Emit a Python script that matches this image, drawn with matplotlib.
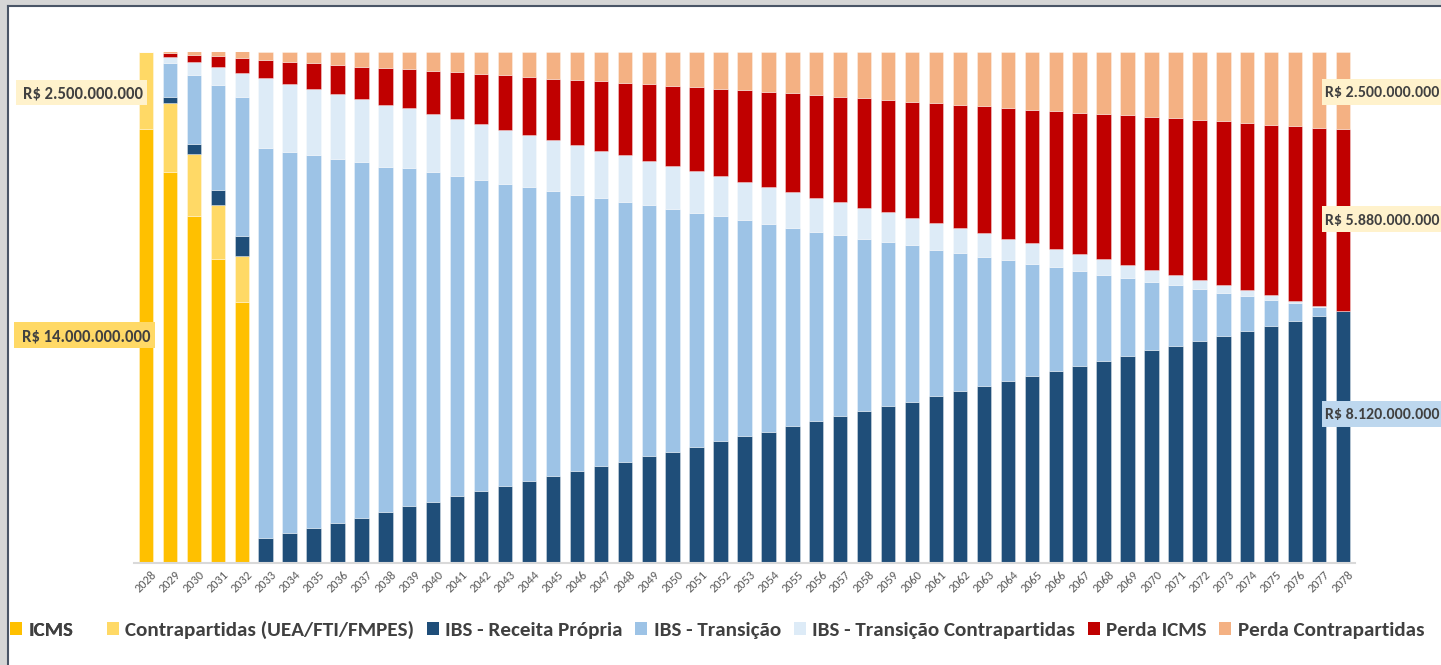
import matplotlib
matplotlib.use('Agg')
import matplotlib.pyplot as plt
from matplotlib.patches import Rectangle, Patch
from matplotlib.lines import Line2D
from matplotlib import font_manager
import matplotlib.transforms as mtransforms
import numpy as np

# ---------------- data (values in R$ billions) ----------------
years = list(range(2028, 2079))

icms = [14.0, 12.6, 11.2, 9.8, 8.4] + [0.0] * 46
contrapartidas = [2.5, 2.25, 2.0, 1.75, 1.5] + [0.0] * 46
ibs_receita_propria = [0, 0.19, 0.32, 0.49, 0.65, 0.79, 0.95, 1.13, 1.28, 1.43, 1.63, 1.81, 1.96,
                       2.15, 2.30, 2.47, 2.63, 2.78, 2.96, 3.11, 3.26, 3.43, 3.58, 3.74, 3.92,
                       4.08, 4.23, 4.41, 4.56, 4.72, 4.89, 5.05, 5.20, 5.38, 5.53, 5.70, 5.86,
                       6.02, 6.17, 6.35, 6.52, 6.67, 6.85, 7.00, 7.15, 7.32, 7.48, 7.63, 7.81,
                       7.97, 8.12]
ibs_transicao = [0, 1.11, 2.24, 3.38, 4.48, 12.61, 12.31, 12.02, 11.76, 11.50, 11.16, 10.92,
                 10.64, 10.32, 10.06, 9.76, 9.50, 9.23, 8.91, 8.66, 8.39, 8.11, 7.83, 7.54,
                 7.26, 6.98, 6.72, 6.41, 6.13, 5.87, 5.57, 5.31, 5.04, 4.73, 4.47, 4.18, 3.91,
                 3.62, 3.38, 3.07, 2.78, 2.52, 2.21, 1.96, 1.68, 1.39, 1.13, 0.84, 0.57, 0.29, 0]
ibs_transicao_contra = [0, 0.19, 0.40, 0.59, 0.79, 2.24, 2.20, 2.15, 2.08, 2.04, 2.00, 1.94,
                        1.88, 1.86, 1.79, 1.74, 1.68, 1.63, 1.61, 1.52, 1.50, 1.43, 1.41, 1.36,
                        1.30, 1.24, 1.18, 1.15, 1.09, 1.06, 1.00, 0.95, 0.88, 0.86, 0.80, 0.77,
                        0.69, 0.67, 0.59, 0.54, 0.49, 0.43, 0.40, 0.33, 0.30, 0.24, 0.18, 0.16,
                        0.08, 0.04, 0]
perda_icms = [0, 0.13, 0.24, 0.36, 0.49, 0.59, 0.72, 0.82, 0.94, 1.05, 1.17, 1.27, 1.41, 1.51,
              1.63, 1.77, 1.88, 1.99, 2.11, 2.25, 2.35, 2.49, 2.58, 2.71, 2.83, 2.95, 3.07,
              3.18, 3.31, 3.40, 3.53, 3.63, 3.77, 3.86, 3.98, 4.09, 4.22, 4.32, 4.43, 4.57,
              4.71, 4.84, 4.94, 5.07, 5.17, 5.30, 5.41, 5.51, 5.64, 5.75, 5.88]
perda_contra = [0, 0.05, 0.11, 0.16, 0.21, 0.27, 0.32, 0.38, 0.44, 0.48, 0.54, 0.56, 0.61, 0.66,
                0.72, 0.76, 0.81, 0.87, 0.91, 0.96, 1.00, 1.04, 1.10, 1.15, 1.19, 1.25, 1.30,
                1.35, 1.41, 1.45, 1.51, 1.56, 1.61, 1.67, 1.72, 1.76, 1.82, 1.87, 1.93, 1.97,
                2.00, 2.04, 2.10, 2.14, 2.20, 2.25, 2.30, 2.36, 2.40, 2.45, 2.50]

series_labels = ["ICMS", "Contrapartidas (UEA/FTI/FMPES)", "IBS - Receita Própria",
                 "IBS - Transição", "IBS - Transição Contrapartidas", "Perda ICMS",
                 "Perda Contrapartidas"]
series_colors = ["#FFC000", "#FFD966", "#1F4E79", "#9DC3E6", "#DDEBF7", "#C00000", "#F4B183"]

label_texts = ["R$ 2.500.000.000", "R$ 14.000.000.000", "R$ 2.500.000.000",
               "R$ 5.880.000.000", "R$ 8.120.000.000"]

# ---------------- fonts ----------------
avail = {f.name for f in font_manager.fontManager.ttflist}
def pick(*names):
    for n in names:
        if n in avail:
            return n
    return "DejaVu Sans"
font = pick("Carlito", "Lato", "Liberation Sans")

# ---------------- figure ----------------
W, H = 1441, 665
fig = plt.figure(figsize=(W / 100, H / 100), dpi=100)
fig.patch.set_facecolor("white")

def fx(px):
    return px / W

def fy(py):
    return 1 - py / H

ax = fig.add_axes([fx(133.5), fy(562.5), (1355 - 133.5) / W, (562.5 - 51.7) / H])
x = np.arange(len(years))
data = [icms, contrapartidas, ibs_receita_propria, ibs_transicao, ibs_transicao_contra,
        perda_icms, perda_contra]
bottom = np.zeros(len(years))
for vals, color, lab in zip(data, series_colors, series_labels):
    v = np.array(vals, dtype=float)
    ax.bar(x, v, 0.6, bottom=bottom, color=color, edgecolor=(1, 1, 1, 0.6),
           linewidth=0.4, label=lab)
    bottom += v

ax.set_xlim(-0.52, 50.5)
ax.set_ylim(0, 16.5)
for s in ["top", "right", "left"]:
    ax.spines[s].set_visible(False)
ax.spines["bottom"].set_color("#D9D9D9")
ax.spines["bottom"].set_linewidth(1.5)
ax.set_yticks([])
ax.set_xticks(x)
ax.set_xticklabels([str(y) for y in years], rotation=45, ha="right",
                   rotation_mode="anchor", fontsize=8.8, color="#595959", family=font)
ax.tick_params(axis="x", length=0, pad=5)
offset = mtransforms.ScaledTranslation(5 / 100, 0, fig.dpi_scale_trans)
for lbl in ax.get_xticklabels():
    lbl.set_transform(lbl.get_transform() + offset)

# ---------------- legend ----------------
handles = [Patch(facecolor=c, edgecolor="none") for c in series_colors]
leg_kw = dict(frameon=False, prop={"family": font, "weight": "bold", "size": 15.2},
              labelcolor="#404040", handlelength=0.57, handleheight=0.57,
              handletextpad=0.3, columnspacing=0.6, borderaxespad=0, borderpad=0)
leg1 = fig.legend(handles[:1], series_labels[:1], loc="center left",
                  bbox_to_anchor=(fx(10), fy(630)), ncol=1, **leg_kw)
fig.add_artist(leg1)
fig.legend(handles[1:], series_labels[1:], loc="center right",
           bbox_to_anchor=(fx(1424), fy(630)), ncol=6, **leg_kw)

# ---------------- value boxes ----------------
boxes = [
    (16, 80, 147, 105, "#FFF2CC", 23, 12),
    (14, 322, 155, 348, "#FFD966", 22, 12),
    (1322, 79, 1460, 105, "#FFF2CC", 1325, 11.4),
    (1322, 206, 1460, 232, "#FFF2CC", 1325, 11.4),
    (1322, 401, 1460, 427, "#BDD7EE", 1325, 11.4),
]
for (x0, y0, x1, y1, fc, tx, fs), txt in zip(boxes, label_texts):
    fig.add_artist(Rectangle((fx(x0), fy(y1)), (x1 - x0) / W, (y1 - y0) / H,
                             transform=fig.transFigure, facecolor=fc, edgecolor="none",
                             zorder=5))
    fig.text(fx(tx), fy((y0 + y1) / 2), txt, ha="left", va="center_baseline",
             fontsize=fs, fontweight="bold", color="#404040", family=font, zorder=6)

# ---------------- frame ----------------
fig.add_artist(Rectangle((0, 0), fx(8), 1, transform=fig.transFigure,
                         facecolor="#D6D6D6", edgecolor="none", zorder=7))
fig.add_artist(Rectangle((0, fy(6)), 1, 6 / H, transform=fig.transFigure,
                         facecolor="#D6D6D6", edgecolor="none", zorder=7))
fig.add_artist(Line2D([fx(8), fx(8)], [0, fy(6)], transform=fig.transFigure,
                      color="#4A5566", lw=1.5, zorder=8))
fig.add_artist(Line2D([fx(8), 1], [fy(6), fy(6)], transform=fig.transFigure,
                      color="#4A5566", lw=1.5, zorder=8))

fig.savefig("out.png", dpi=100, facecolor="white")
